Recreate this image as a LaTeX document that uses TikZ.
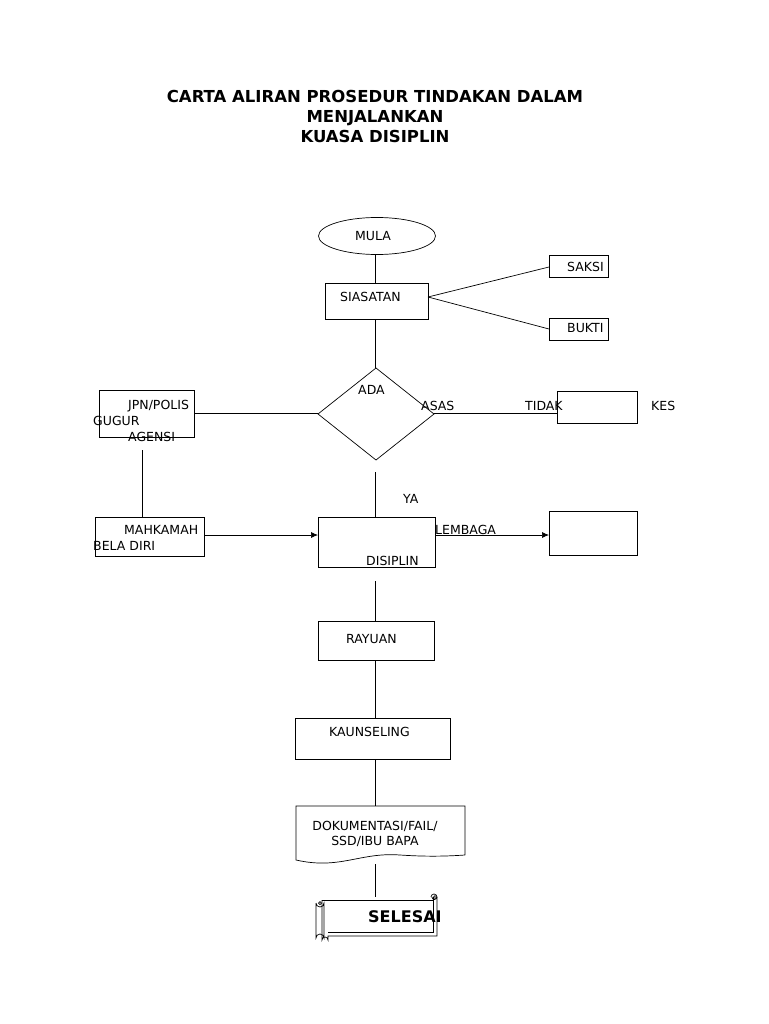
\documentclass[tikz,border=0pt]{standalone}
\usepackage{fontspec}
\setmainfont{DejaVu Sans}
\usetikzlibrary{shapes.geometric,arrows.meta}
\begin{document}
\begin{tikzpicture}[x=1pt,y=-1pt,
 every node/.style={font=\fontsize{12.5}{15}\selectfont},
 box/.style={draw,line width=0.7pt,minimum width=#1,inner sep=0},
 txt/.style={inner sep=0,anchor=west},
 ln/.style={line width=0.7pt},
 arr/.style={ln,-{Latex[length=7pt,width=6pt]}}]
\useasboundingbox (0,0) rectangle (768,1024);
\node[font=\fontsize{16.5}{20}\selectfont\bfseries,align=center] (title) at (375,116) {CARTA ALIRAN PROSEDUR TINDAKAN DALAM\\MENJALANKAN\\KUASA DISIPLIN};
\node[draw,ln,ellipse,minimum width=117,minimum height=37,inner sep=0] (mula) at (377,236) {};
\node[txt] (tmula) at (355,236) {MULA};
\draw[ln] (325,283) rectangle (428,319) node[pos=.5] (sia) {};
\node[txt] (tsia) at (340,297) {SIASATAN};
\draw[ln] (549,255) rectangle (608,277) coordinate (sak2); \coordinate (sak) at (549,267);
\node[txt] (tsak) at (567,267) {SAKSI};
\draw[ln] (549,318) rectangle (608,340); \coordinate (buk) at (549,329);
\node[txt] (tbuk) at (567,328) {BUKTI};
\coordinate (siar) at (428,297);
\draw[ln] (siar) -- (sak); \draw[ln] (siar) -- (buk);
\coordinate (m1) at (375,254); \coordinate (s1) at (375,283);
\draw[ln] (m1) -- (s1);
\coordinate (s2) at (375,319); \coordinate (dt) at (375,368);
\draw[ln] (s2) -- (dt);
\draw[ln] (318,414) coordinate (dl) -- (376,368) -- (434,414) coordinate (dr) -- (376,460) -- cycle;
\node[txt] (tada) at (358,390) {ADA};
\node[txt] (tasas) at (421,406) {ASAS};
\node[txt] (ttidak) at (525,406) {TIDAK};
\node[txt] (tkes) at (651,406) {KES};
\draw[ln] (99,390) rectangle (194,437); \coordinate (jr) at (194,413);
\node[txt] (tjpn) at (128,406) {JPN/POLIS};
\node[txt] (tgug) at (93,421) {GUGUR};
\node[txt] (tage) at (128,437) {AGENSI};
\draw[ln] (557,391) rectangle (637,423); \coordinate (kl) at (557,413);
\draw[ln] (jr) -- (318,413); \draw[ln] (434,413) -- (kl);
\coordinate (j1) at (142,450); \coordinate (j2) at (142,518);
\draw[ln] (j1) -- (j2);
\draw[ln] (95,517) rectangle (204,556); \coordinate (mr) at (204,535);
\node[txt] (tmah) at (124,530) {MAHKAMAH};
\node[txt] (tbel) at (93,546) {BELA DIRI};
\draw[ln] (318,517) rectangle (435,567); \coordinate (dil) at (318,535); \coordinate (dir) at (435,535);
\node[txt] (tlem) at (435,530) {LEMBAGA};
\node[txt] (tdis) at (366,561) {DISIPLIN};
\node[txt] (tya) at (403,499) {YA};
\draw[ln] (549,511) rectangle (637,555); \coordinate (rl) at (549,535);
\draw[arr] (mr) -- (dil); \draw[arr] (dir) -- (rl);
\draw[ln] (375,472) -- (375,517);
\draw[ln] (375,581) -- (375,621);
\draw[ln] (318,621) rectangle (434,660);
\node[txt] (tray) at (346,639) {RAYUAN};
\draw[ln] (375,660) -- (375,718);
\draw[ln] (295,718) rectangle (450,759);
\node[txt] (tkau) at (329,732) {KAUNSELING};
\draw[ln] (375,759) -- (375,806);
\draw[ln] (465,855) -- (465,806) -- (296,806) -- (296,860) .. controls (340,870) and (360,852) .. (400,855) .. controls (430,857) and (450,856) .. (465,855);
\node[align=center] (tdok) at (375,834) {DOKUMENTASI/FAIL/\\SSD/IBU BAPA};
\draw[ln] (375,864) -- (375,897);
% scroll
\draw[ln] (322,900) -- (433,900);
\draw[ln] (322,900) -- (322,940) arc (180:360:3) -- (328,936) -- (437,936) -- (437,897);
\draw[ln] (433,897) -- (433,932) -- (328,932);
\draw[ln] (316,903) -- (316,938) arc (180:360:4) -- (324,903) arc (0:180:4);
\draw[ln] (437,897) arc (0:180:2.5) (431,897) arc (180:360:3);
\draw[ln] (320,903) circle (1.5) (435,897) circle (1.5);
\node[font=\fontsize{16}{18}\selectfont\bfseries,txt] (tsel) at (368,917) {SELESAI};
\end{tikzpicture}
\end{document}
